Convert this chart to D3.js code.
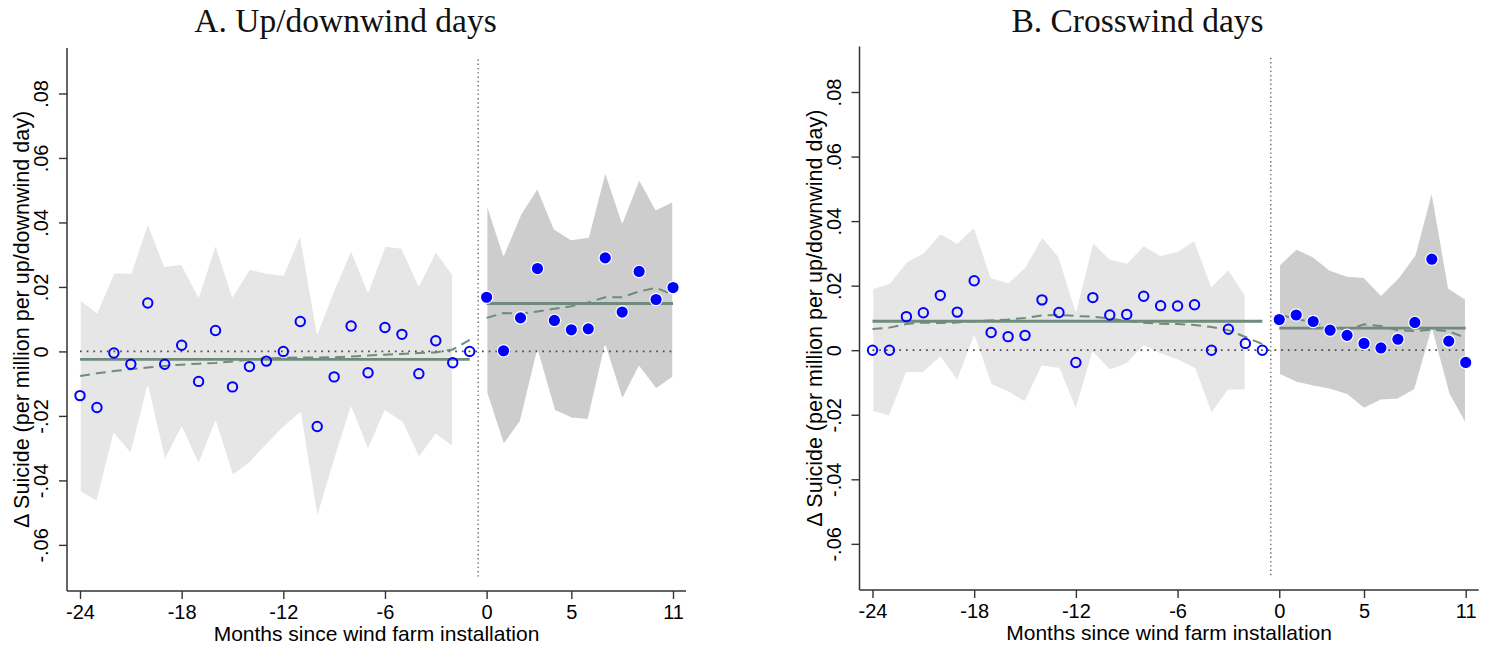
<!DOCTYPE html>
<html>
<head>
<meta charset="utf-8">
<script src="https://cdn.jsdelivr.net/npm/d3@7"></script>
<style>
  body { margin: 0; background: #ffffff; }
  svg { display: block; }
</style>
</head>
<body>
<svg id="chart" width="1493" height="650"></svg>
<script>
// ---- Event-time months ----
const monthsPre  = [-24, -23, -22, -21, -20, -19, -18, -17, -16, -15, -14, -13,
                    -12, -11, -10, -9, -8, -7, -6, -5, -4, -3, -2, -1];
const monthsPost = [0, 1, 2, 3, 4, 5, 6, 7, 8, 9, 10, 11];
// confidence bands before installation stop at month -2 (month -1 is the reference)
const bandMonthsPre = [-24, -23, -22, -21, -20, -19, -18, -17, -16, -15, -14, -13,
                       -12, -11, -10, -9, -8, -7, -6, -5, -4, -3, -2];

const xTickVals = [-24, -18, -12, -6, 0, 5, 11];
const yTickVals = [-0.06, -0.04, -0.02, 0, 0.02, 0.04, 0.06, 0.08];

// ---- Panel A: up/downwind days ----
const upPre = [-0.0137, -0.0174, -0.0005, -0.0040, 0.0150, -0.0040, 0.0019, -0.0093,
               0.0065, -0.0110, -0.0047, -0.0030, 0.0000, 0.0093, -0.0233, -0.0079,
               0.0079, -0.0066, 0.0074, 0.0053, -0.0069, 0.0033, -0.0035, 0.0000];
const upPreHi = [0.0161, 0.0121, 0.0245, 0.0243, 0.0399, 0.0264, 0.0271, 0.0171,
                 0.0334, 0.0171, 0.0256, 0.0243, 0.0237, 0.0364, 0.0058, 0.0192,
                 0.0316, 0.0186, 0.0327, 0.0321, 0.0205, 0.0311, 0.0238];
const upPreLo = [-0.0435, -0.0466, -0.0256, -0.0318, -0.0111, -0.0339, -0.0236, -0.0352,
                 -0.0219, -0.0385, -0.0347, -0.0290, -0.0236, -0.0191, -0.0518, -0.0341,
                 -0.0175, -0.0307, -0.0185, -0.0219, -0.0330, -0.0258, -0.0296];
const upPreFit = [-0.0076, -0.0068, -0.0061, -0.0055, -0.0050, -0.0045, -0.0041, -0.0038,
                  -0.0036, -0.0031, -0.0026, -0.0022, -0.0020, -0.0019, -0.0019, -0.0018,
                  -0.0016, -0.0013, -0.0010, -0.0008, -0.0005, -0.0003, 0.0006, 0.0036];
const upPost = [0.0168, 0.0002, 0.0104, 0.0257, 0.0096, 0.0067, 0.0070, 0.0290,
                0.0122, 0.0248, 0.0161, 0.0198];
const upPostHi = [0.0461, 0.0300, 0.0425, 0.0507, 0.0380, 0.0347, 0.0355, 0.0559,
                  0.0401, 0.0535, 0.0440, 0.0466];
const upPostLo = [-0.0129, -0.0290, -0.0217, 0.0000, -0.0183, -0.0207, -0.0212, 0.0016,
                  -0.0150, -0.0048, -0.0117, -0.0080];
const upPostFit = [0.0104, 0.0119, 0.0117, 0.0124, 0.0132, 0.0140, 0.0152, 0.0168,
                   0.0168, 0.0186, 0.0197, 0.0176];

// ---- Panel B: crosswind days ----
const crossPre = [0.0000, 0.0000, 0.0104, 0.0116, 0.0170, 0.0118, 0.0215, 0.0055,
                  0.0042, 0.0046, 0.0156, 0.0117, -0.0038, 0.0163, 0.0109, 0.0111,
                  0.0167, 0.0138, 0.0137, 0.0141, 0.0000, 0.0065, 0.0021, 0.0000];
const crossPreHi = [0.0191, 0.0208, 0.0274, 0.0302, 0.0363, 0.0332, 0.0383, 0.0225,
                    0.0210, 0.0258, 0.0352, 0.0290, 0.0124, 0.0335, 0.0283, 0.0270,
                    0.0325, 0.0294, 0.0307, 0.0341, 0.0199, 0.0251, 0.0171];
const crossPreLo = [-0.0190, -0.0205, -0.0071, -0.0069, -0.0022, -0.0096, 0.0042, -0.0107,
                    -0.0130, -0.0161, -0.0050, -0.0057, -0.0186, -0.0007, -0.0062, -0.0043,
                    0.0013, -0.0012, -0.0031, -0.0057, -0.0197, -0.0124, -0.0124];
const crossPreFit = [0.0066, 0.0070, 0.0081, 0.0086, 0.0084, 0.0086, 0.0090, 0.0092,
                     0.0095, 0.0100, 0.0108, 0.0109, 0.0106, 0.0104, 0.0098, 0.0091,
                     0.0085, 0.0082, 0.0081, 0.0078, 0.0072, 0.0062, 0.0041, 0.0019];
const crossPost = [0.0095, 0.0109, 0.0089, 0.0062, 0.0046, 0.0021, 0.0007, 0.0034,
                   0.0086, 0.0282, 0.0028, -0.0038];
const crossPostHi = [0.0264, 0.0314, 0.0290, 0.0248, 0.0230, 0.0226, 0.0171, 0.0223,
                     0.0295, 0.0495, 0.0192, 0.0158];
const crossPostLo = [-0.0075, -0.0100, -0.0112, -0.0122, -0.0138, -0.0181, -0.0155, -0.0152,
                     -0.0122, 0.0062, -0.0135, -0.0230];
const crossPostFit = [0.0109, 0.0098, 0.0085, 0.0072, 0.0062, 0.0080, 0.0075, 0.0062,
                      0.0059, 0.0064, 0.0059, 0.0038];

// ---- Styling ----
const SANS = "'Liberation Sans', Arial, Helvetica, sans-serif";
const SERIF = "'Liberation Serif', 'Times New Roman', serif";
const BLUE = "#0000ff";
const FIT = "#6f8b7b";
const AXIS = "#333333";

const panels = [
  { title: "A. Up/downwind days", left: 67, right: 686, top: 48, bottom: 591, titleX: 345.5,
    pre: upPre, preHi: upPreHi, preLo: upPreLo, preFit: upPreFit,
    post: upPost, postHi: upPostHi, postLo: upPostLo, postFit: upPostFit },
  { title: "B. Crosswind days", left: 859.5, right: 1478.7, top: 46.5, bottom: 590, titleX: 1137.5,
    pre: crossPre, preHi: crossPreHi, preLo: crossPreLo, preFit: crossPreFit,
    post: crossPost, postHi: crossPostHi, postLo: crossPostLo, postFit: crossPostFit }
];

const svg = d3.select("#chart");
const yDomain = [-0.0743, 0.0941];

// Stata-style labels: plain hyphen, no leading zero
const fmtY = d => d === 0 ? "0" : d.toFixed(2).replace("0.", ".");
const fmtX = d => String(d);

panels.forEach(p => {
  const g = svg.append("g");
  const x = d3.scaleLinear().domain([-24, 11]).range([p.left + 13, p.right - 13]);
  const y = d3.scaleLinear().domain(yDomain).range([p.bottom, p.top]);

  const area = d3.area()
    .x(d => x(d.m)).y0(d => y(d.lo)).y1(d => y(d.hi));
  const line = d3.line().x(d => x(d.m)).y(d => y(d.v));

  const preBand = bandMonthsPre.map((m, i) => ({ m, hi: p.preHi[i], lo: p.preLo[i] }));
  const postBand = monthsPost.map((m, i) => ({ m, hi: p.postHi[i], lo: p.postLo[i] }));

  // confidence bands
  g.append("path").datum(preBand).attr("d", area)
    .attr("fill", "#e6e6e6").attr("stroke", "#ffffff").attr("stroke-width", 1.5)
    .attr("stroke-linejoin", "round");
  g.append("path").datum(postBand).attr("d", area)
    .attr("fill", "#cdcdcd").attr("stroke", "#ffffff").attr("stroke-width", 1.5)
    .attr("stroke-linejoin", "round");

  // zero reference line
  g.append("line")
    .attr("x1", x(-24)).attr("x2", x(11)).attr("y1", y(0)).attr("y2", y(0))
    .attr("stroke", "#4a4a4a").attr("stroke-width", 1.7)
    .attr("stroke-dasharray", "1.7,5");

  // installation marker between months -1 and 0
  g.append("line")
    .attr("x1", x(-0.5)).attr("x2", x(-0.5))
    .attr("y1", y(0.0906)).attr("y2", y(-0.0698))
    .attr("stroke", "#6a6a6a").attr("stroke-width", 1.4)
    .attr("stroke-dasharray", "1.4,2.9");

  // period means
  const preMean = d3.mean(p.pre);
  const postMean = d3.mean(p.post);
  g.append("path").datum([{ m: -24, v: preMean }, { m: -1, v: preMean }]).attr("d", line)
    .attr("fill", "none").attr("stroke", FIT).attr("stroke-width", 2.8);
  g.append("path").datum([{ m: 0, v: postMean }, { m: 11, v: postMean }]).attr("d", line)
    .attr("fill", "none").attr("stroke", FIT).attr("stroke-width", 2.8);

  // local fits
  g.append("path").datum(monthsPre.map((m, i) => ({ m, v: p.preFit[i] }))).attr("d", line)
    .attr("fill", "none").attr("stroke", FIT).attr("stroke-width", 2)
    .attr("stroke-dasharray", "10,6");
  g.append("path").datum(monthsPost.map((m, i) => ({ m, v: p.postFit[i] }))).attr("d", line)
    .attr("fill", "none").attr("stroke", FIT).attr("stroke-width", 2)
    .attr("stroke-dasharray", "10,6");

  // monthly estimates
  g.append("g").selectAll("circle")
    .data(monthsPre.map((m, i) => ({ m, v: p.pre[i] })))
    .join("circle")
    .attr("cx", d => x(d.m)).attr("cy", d => y(d.v)).attr("r", 4.7)
    .attr("fill", "none").attr("stroke", BLUE).attr("stroke-width", 2);
  g.append("g").selectAll("circle")
    .data(monthsPost.map((m, i) => ({ m, v: p.post[i] })))
    .join("circle")
    .attr("cx", d => x(d.m)).attr("cy", d => y(d.v)).attr("r", 6.2)
    .attr("fill", BLUE).attr("stroke", "#ffffff").attr("stroke-width", 1.2);

  // axes
  const xAxis = d3.axisBottom(x).tickValues(xTickVals).tickSize(8).tickSizeOuter(0)
    .tickFormat(fmtX);
  const gx = g.append("g").attr("transform", `translate(0,${p.bottom})`).call(xAxis);
  gx.select(".domain").remove();
  gx.selectAll(".tick line").attr("stroke", AXIS).attr("stroke-width", 1.4);
  gx.selectAll(".tick text")
    .attr("y", 28).attr("dy", null)
    .attr("fill", "#000").style("font-family", SANS).style("font-size", "20px");

  const yAxis = d3.axisLeft(y).tickValues(yTickVals).tickSize(8).tickSizeOuter(0)
    .tickFormat(fmtY);
  const gy = g.append("g").attr("transform", `translate(${p.left},0)`).call(yAxis);
  gy.select(".domain").remove();
  gy.selectAll(".tick line").attr("stroke", AXIS).attr("stroke-width", 1.4);
  gy.selectAll(".tick text")
    .attr("x", null).attr("dy", null)
    .attr("transform", "translate(-19,0) rotate(-90)")
    .attr("text-anchor", "middle")
    .attr("fill", "#000").style("font-family", SANS).style("font-size", "20px");

  // axis lines
  g.append("line").attr("x1", p.left).attr("x2", p.left).attr("y1", p.top).attr("y2", p.bottom)
    .attr("stroke", AXIS).attr("stroke-width", 1.5);
  g.append("line").attr("x1", p.left).attr("x2", p.right).attr("y1", p.bottom).attr("y2", p.bottom)
    .attr("stroke", AXIS).attr("stroke-width", 1.5);

  // axis titles
  g.append("text")
    .attr("transform", `translate(${p.left - 38},${(p.top + p.bottom) / 2}) rotate(-90)`)
    .attr("text-anchor", "middle")
    .style("font-family", SANS).style("font-size", "21.5px").attr("fill", "#000")
    .text("Δ Suicide (per million per up/downwind day)");
  g.append("text")
    .attr("x", (p.left + p.right) / 2).attr("y", p.bottom + 50)
    .attr("text-anchor", "middle")
    .style("font-family", SANS).style("font-size", "21px").attr("fill", "#000")
    .text("Months since wind farm installation");

  // panel title
  g.append("text")
    .attr("x", p.titleX).attr("y", 32)
    .attr("text-anchor", "middle")
    .style("font-family", SERIF).style("font-size", "33.5px").attr("fill", "#111")
    .text(p.title);
});
</script>
</body>
</html>
